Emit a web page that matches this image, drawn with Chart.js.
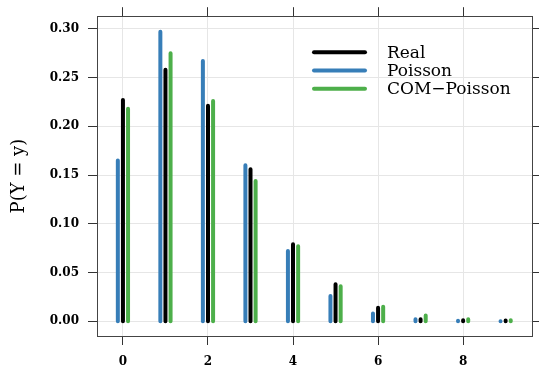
<!DOCTYPE html>
<html>
<head>
<meta charset="utf-8">
<script src="https://cdn.jsdelivr.net/npm/chart.js@4"></script>
<style>
  html, body { margin: 0; padding: 0; background: #fff; }
</style>
</head>
<body>
<canvas id="chart" width="539" height="367"></canvas>
<script>
// values
const counts = [0, 1, 2, 3, 4, 5, 6, 7, 8, 9];
const realProb = [0.227, 0.258, 0.221, 0.156, 0.079, 0.038, 0.014, 0.002, 0.001, 0.0008];
const poissonProb = [0.165, 0.297, 0.267, 0.160, 0.072, 0.026, 0.008, 0.002, 0.0005, 0.0001];
const comProb = [0.218, 0.275, 0.226, 0.144, 0.077, 0.036, 0.015, 0.006, 0.002, 0.001];
const xTicks = [0, 2, 4, 6, 8];
const yTicks = [0, 0.05, 0.10, 0.15, 0.20, 0.25, 0.30];
const seriesNames = ["Real", "Poisson", "COM\u2212Poisson"];

const colors = { real: "#000000", poisson: "#377EB8", com: "#4DAF4A" };
const serif = "'DejaVu Serif', serif";

// each value becomes a vertical segment from 0 up to the value, split by a null
function spikes(values, shift) {
  const pts = [];
  counts.forEach((c, i) => {
    pts.push({ x: c + shift, y: 0 });
    pts.push({ x: c + shift, y: values[i] });
    pts.push({ x: c + shift, y: null });
  });
  return pts;
}

function spikeSet(label, values, shift, color) {
  return {
    label: label,
    data: spikes(values, shift),
    borderColor: color,
    borderWidth: 4,
    borderCapStyle: "round",
    pointRadius: 0,
    spanGaps: false,
    fill: false
  };
}

// legend drawn inside the plot box, top right
const spikeLegend = {
  id: "spikeLegend",
  afterDraw(chart) {
    const { ctx, chartArea } = chart;
    const items = [
      [seriesNames[0], colors.real],
      [seriesNames[1], colors.poisson],
      [seriesNames[2], colors.com]
    ];
    ctx.save();
    ctx.font = "17px " + serif;
    ctx.textBaseline = "middle";
    ctx.lineCap = "round";
    items.forEach(([name, col], i) => {
      const y = chartArea.top + 36 + i * 18.3;
      ctx.strokeStyle = col;
      ctx.lineWidth = 4;
      ctx.beginPath();
      ctx.moveTo(chartArea.right - 218, y);
      ctx.lineTo(chartArea.right - 167, y);
      ctx.stroke();
      ctx.fillStyle = "#000";
      ctx.fillText(name, chartArea.right - 145, y + 1);
    });
    ctx.restore();
  }
};

const gridColor = "#e6e6e6";
const tickColor = "#333";
const boxBorder = { display: true, color: "#444", width: 1 };
const tickFont = { family: serif, size: 12, weight: "bold" };

new Chart(document.getElementById("chart").getContext("2d"), {
  type: "line",
  data: {
    datasets: [
      spikeSet(seriesNames[1], poissonProb, -0.12, colors.poisson),
      spikeSet(seriesNames[0], realProb, 0, colors.real),
      spikeSet(seriesNames[2], comProb, 0.12, colors.com)
    ]
  },
  options: {
    responsive: false,
    animation: false,
    layout: { padding: 0 },
    plugins: {
      legend: { display: false },
      tooltip: { enabled: false }
    },
    scales: {
      x: {
        type: "linear",
        position: "bottom",
        min: -0.61,
        max: 9.62,
        afterBuildTicks: s => { s.ticks = xTicks.map(v => ({ value: v })); },
        afterFit: s => { s.height = 31; },
        grid: { color: gridColor, tickColor: tickColor, tickLength: 9 },
        border: boxBorder,
        ticks: { color: "#000", font: tickFont, padding: 10, maxRotation: 0 }
      },
      x2: {
        type: "linear",
        position: "top",
        min: -0.61,
        max: 9.62,
        afterBuildTicks: s => { s.ticks = xTicks.map(v => ({ value: v })); },
        afterFit: s => { s.height = 16; },
        grid: { drawOnChartArea: false, tickColor: tickColor, tickLength: 9 },
        border: boxBorder,
        ticks: { display: false }
      },
      y: {
        type: "linear",
        position: "left",
        min: -0.0151,
        max: 0.313,
        afterBuildTicks: s => { s.ticks = yTicks.map(v => ({ value: v })); },
        afterFit: s => { s.width = 97; },
        grid: { color: gridColor, tickColor: tickColor, tickLength: 9 },
        border: boxBorder,
        ticks: {
          color: "#000",
          font: tickFont,
          padding: 9,
          callback: v => Number(v).toFixed(2)
        },
        title: {
          display: true,
          text: "P(Y = y)",
          color: "#000",
          font: { family: serif, size: 18 },
          padding: { top: 9, bottom: 0 }
        }
      },
      y2: {
        type: "linear",
        position: "right",
        min: -0.0151,
        max: 0.313,
        afterBuildTicks: s => { s.ticks = yTicks.map(v => ({ value: v })); },
        afterFit: s => { s.width = 7; },
        grid: { drawOnChartArea: false, tickColor: tickColor, tickLength: 9 },
        border: boxBorder,
        ticks: { display: false }
      }
    }
  },
  plugins: [spikeLegend]
});
</script>
</body>
</html>
